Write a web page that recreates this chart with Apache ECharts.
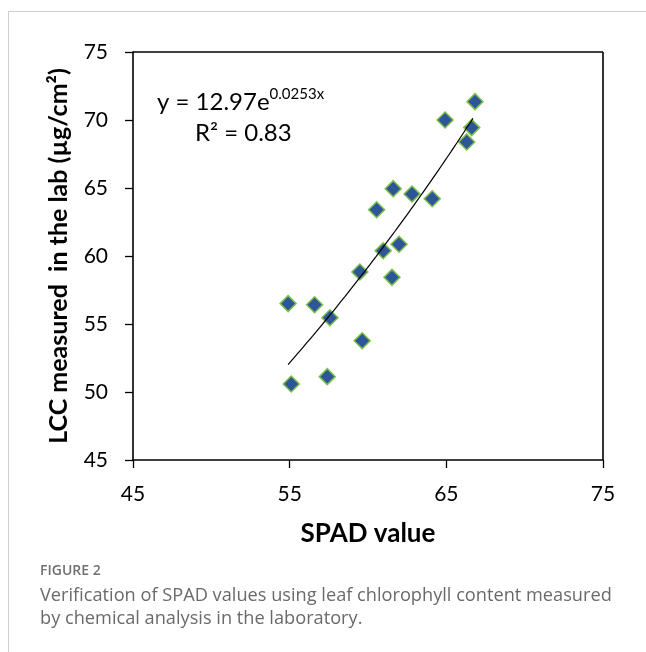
<!DOCTYPE html>
<html>
<head>
<meta charset="utf-8">
<script src="https://cdn.jsdelivr.net/npm/echarts@6/dist/echarts.min.js"></script>
<style>
html,body{margin:0;padding:0;background:#fff;}
#chart{width:646px;height:652px;}
</style>
</head>
<body>
<div id="chart"></div>
<script>
// Data
const spadValues = [66.83, 64.92, 66.62, 66.30, 61.61, 62.81, 64.10, 60.55, 61.98, 60.97, 59.48, 61.53, 54.90, 56.59, 57.57, 59.63, 57.40, 55.10];
const lccValues  = [71.35, 70.00, 69.44, 68.38, 64.95, 64.56, 64.21, 63.40, 60.86, 60.39, 58.82, 58.43, 56.50, 56.42, 55.46, 53.77, 51.13, 50.59];
const xTicks = [45, 55, 65, 75];
const yTicks = [45, 50, 55, 60, 65, 70, 75];
// Trendline printed on the chart: y = 12.97 e^(0.0253x)
const trendA = 12.97;
const trendB = 0.0253;
const trendRange = [54.9, 66.8];

const points = spadValues.map((x, i) => [x, lccValues[i]]);
const trend = [];
for (let x = trendRange[0]; x <= trendRange[1] + 1e-9; x += 0.2) {
  trend.push([x, trendA * Math.exp(trendB * x)]);
}

const chart = echarts.init(document.getElementById('chart'));
const axisFont = 'Lato, "Open Sans", sans-serif';
chart.setOption({
  animation: false,
  backgroundColor: '#fff',
  grid: {left: 133, top: 52, right: 43, bottom: 192, show: false},
  xAxis: {
    type: 'value', min: xTicks[0], max: xTicks[xTicks.length - 1], interval: 10,
    name: 'SPAD value', nameLocation: 'middle', nameGap: 61,
    nameTextStyle: {fontFamily: axisFont, fontSize: 26, fontWeight: 'bold', color: '#000'},
    axisLine: {show: true, onZero: false, lineStyle: {color: '#000', width: 1.6}},
    axisTick: {show: true, length: 8, lineStyle: {color: '#000', width: 1.3}},
    axisLabel: {fontFamily: axisFont, fontSize: 21, color: '#000', margin: 24},
    splitLine: {show: false}
  },
  yAxis: {
    type: 'value', min: yTicks[0], max: yTicks[yTicks.length - 1], interval: 5,
    name: 'LCC measured  in the lab (µg/cm²)', nameLocation: 'middle', nameGap: 62,
    nameTextStyle: {fontFamily: axisFont, fontSize: 25, fontWeight: 'bold', color: '#000'},
    axisLine: {show: true, onZero: false, lineStyle: {color: '#000', width: 1.6}},
    axisTick: {show: true, length: 8, lineStyle: {color: '#000', width: 1.3}},
    axisLabel: {fontFamily: axisFont, fontSize: 21, color: '#000', margin: 25},
    splitLine: {show: false}
  },
  series: [
    {
      type: 'line', data: trend, showSymbol: false, symbol: 'none', smooth: false,
      lineStyle: {color: '#000', width: 1.2}, z: 3, silent: true
    },
    {
      type: 'scatter', data: points, symbol: 'diamond', symbolSize: [16, 16],
      itemStyle: {color: '#2E5597', borderColor: '#7CBF4A', borderWidth: 1.5, opacity: 1}, z: 2
    }
  ],
  graphic: [
    // plot frame (top and right edges)
    {type: 'line', shape: {x1: 133, y1: 52, x2: 603, y2: 52}, style: {stroke: '#000', lineWidth: 1.6}, z: 10},
    {type: 'line', shape: {x1: 603, y1: 52, x2: 603, y2: 460}, style: {stroke: '#000', lineWidth: 1.6}, z: 10},
    // page frame
    {type: 'line', shape: {x1: 8, y1: 11.5, x2: 646, y2: 11.5}, style: {stroke: '#cfcfcf', lineWidth: 1}},
    {type: 'line', shape: {x1: 8.5, y1: 11, x2: 8.5, y2: 652}, style: {stroke: '#cfcfcf', lineWidth: 1}},
    // equation
    {type: 'text', left: 157, top: 87, style: {
      text: '{m|y = 12.97e}{s|0.0253x}',
      rich: {
        m: {fontFamily: axisFont, fontSize: 24, fill: '#000', verticalAlign: 'bottom'},
        s: {fontFamily: axisFont, fontSize: 15, fill: '#000', verticalAlign: 'top', padding: [0, 0, 12, 0]}
      }
    }},
    {type: 'text', left: 195, top: 121, style: {
      text: 'R² = 0.83', fontFamily: axisFont, fontSize: 24, fill: '#000'
    }},
    // caption
    {type: 'text', left: 40, top: 564, style: {
      text: 'FIGURE 2', fontFamily: '"Open Sans", sans-serif', fontSize: 14, fontWeight: 600, fill: '#707070'
    }},
    {type: 'text', left: 40, top: 584, style: {
      text: 'Verification of SPAD values using leaf chlorophyll content measured\nby chemical analysis in the laboratory.',
      fontFamily: '"Open Sans", sans-serif', fontSize: 18.2, lineHeight: 23, fill: '#6a6a6a'
    }}
  ]
});
</script>
</body>
</html>
